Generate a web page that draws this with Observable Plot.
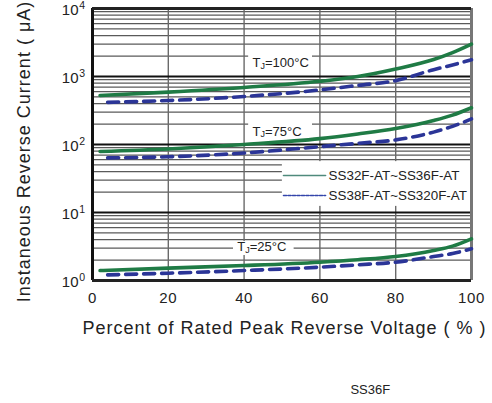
<!DOCTYPE html>
<html>
<head>
<meta charset="utf-8">
<script src="https://cdn.jsdelivr.net/npm/d3@7"></script>
<script src="https://cdn.jsdelivr.net/npm/@observablehq/plot@0.6"></script>
<style>
  body { margin: 0; background: #fff; }
</style>
</head>
<body>
<div id="chart"></div>
<script>
// ---- data ----
const seriesNames = ["SS32F-AT~SS36F-AT", "SS38F-AT~SS320F-AT"];
const temps = ["100", "75", "25"];

const greenX = [2, 20, 40, 60, 70, 80, 90, 95, 100];
const green100 = [525, 590, 690, 850, 1000, 1290, 1780, 2250, 3000];
const green75 = [79, 86, 100, 122, 143, 172, 225, 270, 347];
const green25 = [1.40, 1.52, 1.66, 1.86, 2.02, 2.25, 2.76, 3.2, 4.1];

const blueX = [4, 20, 40, 60, 70, 80, 90, 95, 100];
const blue100 = [417, 443, 508, 635, 740, 870, 1260, 1480, 1760];
const blue75 = [63.5, 66, 75, 93, 104, 117, 152, 185, 238];
const blue25 = [1.21, 1.28, 1.40, 1.57, 1.70, 1.86, 2.25, 2.5, 2.93];

const xTicks = [0, 20, 40, 60, 80, 100];
const yDecades = [1, 10, 100, 1000, 10000];
const xTitle = "Percent of Rated Peak Reverse Voltage ( % )";
const yTitle = "Instaneous Reverse Current ( \u03bcA)";
const caption = "SS36F";

// ---- annotation placement (data units) ----
const labelPos = [
  {t: "100", x: 42.2, y: 1570, box: [41.2, 58.05, 1145, 2178]},
  {t: "75",  x: 42.2, y: 155,  box: [41.2, 58.05, 114.6, 218]},
  {t: "25",  x: 38.2, y: 3.09, box: [37.2, 53.2, 2.33, 3.75]}
];
const legendBox = [50.1, 100, 12.3, 56];
const legendRows = [
  {name: seriesNames[0], y: 35.0},
  {name: seriesNames[1], y: 17.8}
];
const legendLineX = [50.4, 61.5];
const legendTextX = 62.3;

// ---- build tables ----
const rows = [];
function add(xs, ys, series, temp) {
  xs.forEach((x, i) => rows.push({x, y: ys[i], series, temp}));
}
add(greenX, green100, seriesNames[0], "100");
add(greenX, green75, seriesNames[0], "75");
add(greenX, green25, seriesNames[0], "25");
add(blueX, blue100, seriesNames[1], "100");
add(blueX, blue75, seriesNames[1], "75");
add(blueX, blue25, seriesNames[1], "25");
const greenRows = rows.filter(d => d.series === seriesNames[0]);
const blueRows = rows.filter(d => d.series === seriesNames[1]);

const minor = [];
for (let k = 0; k < 4; k++) for (let m = 2; m <= 9; m++) minor.push(m * Math.pow(10, k));

const GREEN = "#1f7b45", BLUE = "#2b3597";
const FONT = "'Liberation Sans', Arial, sans-serif";

const legendLines = [];
legendRows.forEach(r => legendLineX.forEach(x => legendLines.push({x, y: r.y, name: r.name})));

const chart = Plot.plot({
  width: 492,
  height: 403,
  marginLeft: 92,
  marginRight: 21,
  marginTop: 8,
  marginBottom: 123,
  style: {fontFamily: FONT, background: "#fff", color: "#222"},
  x: {domain: [0, 100], axis: null},
  y: {type: "log", domain: [1, 10000], axis: null},
  marks: [
    Plot.ruleY(minor, {stroke: "#5a5a5a", strokeWidth: 1.2}),
    Plot.ruleX([20, 40, 60, 80], {stroke: "#6a6a6a", strokeWidth: 1.4}),
    Plot.ruleY([10, 100, 1000], {stroke: "#111", strokeWidth: 2}),
    // label / legend backgrounds
    Plot.rect(labelPos, {x1: d => d.box[0], x2: d => d.box[1], y1: d => d.box[2], y2: d => d.box[3], fill: "#fff"}),
    Plot.rect([legendBox], {x1: d => d[0], x2: d => d[1], y1: d => d[2], y2: d => d[3], fill: "#fff"}),
    // frame
    Plot.ruleX([100], {stroke: "#777", strokeWidth: 3}),
    Plot.ruleX([0], {stroke: "#111", strokeWidth: 3}),
    Plot.ruleY([1, 10000], {stroke: "#222", strokeWidth: 3}),
    // curves
    Plot.line(greenRows, {x: "x", y: "y", z: "temp", stroke: GREEN, strokeWidth: 3.6, curve: "monotone-x"}),
    Plot.line(blueRows, {x: "x", y: "y", z: "temp", stroke: BLUE, strokeWidth: 3.6, strokeDasharray: "11,7", curve: "monotone-x"}),
    // temperature labels: T, subscript J, rest
    Plot.text(labelPos, {x: "x", y: "y", text: () => "T", textAnchor: "start", fontSize: 13, fill: "#222"}),
    Plot.text(labelPos, {x: "x", y: "y", text: () => "J", textAnchor: "start", fontSize: 9, dx: 8, dy: 3, fill: "#222"}),
    Plot.text(labelPos, {x: "x", y: "y", text: d => "=" + d.t + "\u00b0C", textAnchor: "start", fontSize: 13, dx: 12.5, fill: "#222"}),
    // legend
    Plot.line(legendLines.filter(d => d.name === seriesNames[0]), {x: "x", y: "y", stroke: "#4f8a7c", strokeWidth: 1.6}),
    Plot.line(legendLines.filter(d => d.name === seriesNames[1]), {x: "x", y: "y", stroke: "#3344aa", strokeWidth: 1.6, strokeDasharray: "3,1.5"}),
    Plot.text(legendRows, {x: () => legendTextX, y: "y", text: "name", textAnchor: "start", fontSize: 13.4, fill: "#222"}),
    // y tick labels 10^n
    Plot.text(yDecades, {frameAnchor: "left", y: d => d, text: () => "10", textAnchor: "end", dx: -14, dy: 1.5, fontSize: 15, fill: "#222"}),
    Plot.text(yDecades, {frameAnchor: "left", y: d => d, text: d => String(Math.round(Math.log10(d))), textAnchor: "start", dx: -13.3, dy: -2.5, fontSize: 10.5, fill: "#222"}),
    // x tick labels
    Plot.text(xTicks, {x: d => d, frameAnchor: "bottom", dy: 22.5, text: d => String(d), fontSize: 15, fill: "#222"}),
    // axis titles
    Plot.text([xTitle], {frameAnchor: "bottom", dy: 53, dx: 2.5, text: d => d, fontSize: 18, fill: "#222"}),
    Plot.text([yTitle], {frameAnchor: "left", textAnchor: "middle", dx: -68, dy: 7, rotate: -90, text: d => d, fontSize: 18, fill: "#222"}),
    Plot.text([caption], {frameAnchor: "bottom", dx: 88.3, dy: 113, text: d => d, fontSize: 13, fill: "#222"})
  ]
});
// letter spacing for the wide-set titles and tick labels
const svg = d3.select(chart);
svg.selectAll("text").filter(function () {
  return this.textContent === xTitle || this.textContent === yTitle;
}).style("letter-spacing", "1px");
svg.selectAll("text").filter(function () {
  return xTicks.map(String).includes(this.textContent);
}).style("letter-spacing", "0.6px");
document.getElementById("chart").appendChild(chart);
</script>
</body>
</html>
